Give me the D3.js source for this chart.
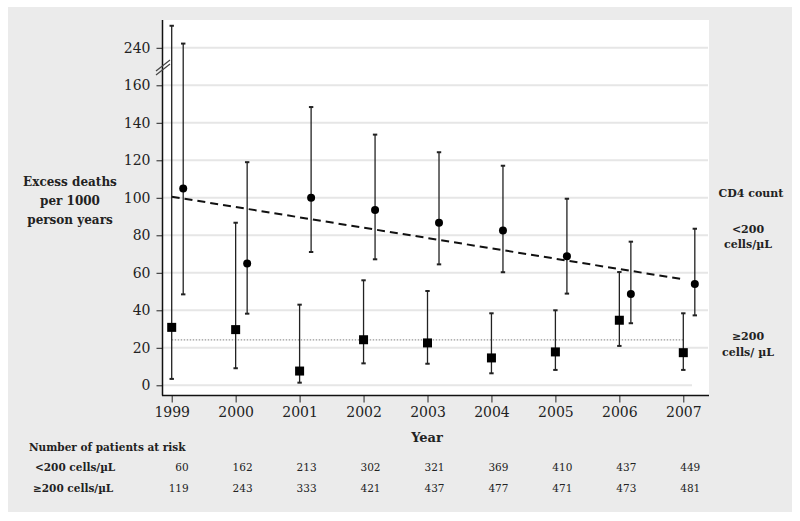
<!DOCTYPE html>
<html><head><meta charset="utf-8">
<script src="https://cdn.jsdelivr.net/npm/d3@7"></script>
<style>body{margin:0;background:#fff}svg{display:block}</style>
</head><body>
<script>
// ---- data ----
const years = [1999, 2000, 2001, 2002, 2003, 2004, 2005, 2006, 2007];
// CD4 < 200 cells/µL (circles)
const lowEst   = [105, 65, 100, 93.5, 86.7, 82.5, 68.8, 48.7, 54];
const lowLower = [48.5, 38.2, 71.1, 67.2, 64.5, 60.3, 48.9, 33.1, 37.3];
const lowUpper = [249, 119, 148.4, 133.7, 124.3, 117.1, 99.5, 76.6, 83.5];
// CD4 >= 200 cells/µL (squares)
const highEst   = [30.9, 29.7, 7.6, 24.3, 22.6, 14.6, 17.8, 34.7, 17.4];
const highLower = [3.4, 9.1, 1.4, 11.7, 11.5, 6.4, 8.2, 21, 8.2];
const highUpper = [287, 86.7, 43, 56, 50.3, 38.4, 40, 60.4, 38.4];
// trend lines
const lowTrend = [100.6, 56.5];   // values at 1999 and 2007
const highTrend = [24.2, 24.2];
const yTicks = [0, 20, 40, 60, 80, 100, 120, 140, 160, 240];
// patients at risk
const riskLow  = [60, 162, 213, 302, 321, 369, 410, 437, 449];
const riskHigh = [119, 243, 333, 421, 437, 477, 471, 473, 481];

const W = 800, H = 521;
const svg = d3.select("body").append("svg").attr("width", W).attr("height", H);
const serif = "DejaVu Serif";

svg.append("rect").attr("x", 8).attr("y", 7).attr("width", 784).attr("height", 505).attr("fill", "#ebebeb");
svg.append("rect").attr("x", 162).attr("y", 20).attr("width", 547).attr("height", 375).attr("fill", "#fff");

// scales (y axis broken above 160)
const x = d3.scaleLinear().domain([1999, 2007]).range([171.7, 683.3]);
const y = d3.scaleLinear().domain([0, 160, 240]).range([385.3, 85.3, 47.8]);
const circOff = 0.18; // circles plotted slightly right of year

// grid
svg.append("g").selectAll("line").data(yTicks).join("line")
  .attr("x1", 163).attr("x2", d => d === 0 ? 692 : 708)
  .attr("y1", d => y(d)).attr("y2", d => y(d))
  .attr("stroke", "#e6e6e6").attr("stroke-width", 2);

// y axis
const yAxis = d3.axisLeft(y).tickValues(yTicks).tickSize(6).tickPadding(6);
const gy = svg.append("g").attr("transform", "translate(162.5,0)").call(yAxis);
gy.select(".domain").remove();
gy.selectAll("text").attr("font-family", serif).attr("font-size", 14).attr("fill", "#222");
gy.selectAll(".tick line").attr("stroke", "#222");
svg.append("line").attr("x1", 162.5).attr("x2", 162.5).attr("y1", 20).attr("y2", 395.5).attr("stroke", "#111").attr("stroke-width", 1.5);
// break marks
[0, 4].forEach(o => {
  svg.append("line").attr("x1", 156).attr("y1", 71 + o).attr("x2", 170).attr("y2", 60 + o)
    .attr("stroke", "#444").attr("stroke-width", 1.2);
});

// x axis
const xAxis = d3.axisBottom(x).tickValues(years).tickFormat(d3.format("d")).tickSize(7).tickPadding(5);
const gx = svg.append("g").attr("transform", "translate(0,395.5)").call(xAxis);
gx.select(".domain").remove();
gx.selectAll("text").attr("font-family", serif).attr("font-size", 14).attr("fill", "#222");
gx.selectAll(".tick line").attr("stroke", "#222");
svg.append("line").attr("x1", 162).attr("x2", 709).attr("y1", 395.5).attr("y2", 395.5).attr("stroke", "#111").attr("stroke-width", 1.5);

// trend lines
svg.append("line")
  .attr("x1", x(years[0])).attr("x2", x(years[years.length - 1]))
  .attr("y1", y(highTrend[0])).attr("y2", y(highTrend[1]))
  .attr("stroke", "#999").attr("stroke-width", 1.2).attr("stroke-dasharray", "1.5,1.5");
svg.append("line")
  .attr("x1", x(years[0])).attr("x2", x(years[years.length - 1]))
  .attr("y1", y(lowTrend[0])).attr("y2", y(lowTrend[1]))
  .attr("stroke", "#111").attr("stroke-width", 2).attr("stroke-dasharray", "8,5");

function errBars(xs, lo, hi) {
  const g = svg.append("g").attr("stroke", "#222");
  years.forEach((yr, i) => {
    const cx = xs(yr);
    g.append("line").attr("x1", cx).attr("x2", cx).attr("y1", y(lo[i])).attr("y2", y(hi[i])).attr("stroke-width", 1.3);
    [lo[i], hi[i]].forEach(v => g.append("line").attr("x1", cx - 2.2).attr("x2", cx + 2.2)
      .attr("y1", y(v)).attr("y2", y(v)).attr("stroke-width", 2));
  });
}
errBars(yr => x(yr), highLower, highUpper);
errBars(yr => x(yr + circOff), lowLower, lowUpper);

// markers
svg.append("g").selectAll("rect").data(years).join("rect")
  .attr("x", (d, i) => x(d) - 4.5).attr("y", (d, i) => y(highEst[i]) - 4.5)
  .attr("width", 9).attr("height", 9).attr("fill", "#000");
svg.append("g").selectAll("circle").data(years).join("circle")
  .attr("cx", d => x(d + circOff)).attr("cy", (d, i) => y(lowEst[i])).attr("r", 4).attr("fill", "#000");

// y label
const yl = svg.append("text").attr("font-family", serif).attr("font-weight", "bold").attr("font-size", 12)
  .attr("text-anchor", "middle").attr("fill", "#222");
["Excess deaths", "per 1000", "person years"].forEach((t, i) =>
  yl.append("tspan").attr("x", 70).attr("y", 186 + i * 19).text(t));

// x label
svg.append("text").attr("x", 427).attr("y", 442).attr("font-family", serif).attr("font-weight", "bold")
  .attr("font-size", 13).attr("text-anchor", "middle").attr("fill", "#222").text("Year");

// legend on right
const lg = svg.append("g").attr("font-family", serif).attr("font-weight", "bold").attr("font-size", 11)
  .attr("text-anchor", "middle").attr("fill", "#222");
lg.append("text").attr("x", 751).attr("y", 197).text("CD4 count");
lg.append("text").attr("x", 748).attr("y", 233).text("<200");
lg.append("text").attr("x", 748).attr("y", 248).text("cells/µL");
lg.append("text").attr("x", 748).attr("y", 340).text("≥200");
lg.append("text").attr("x", 748).attr("y", 356).text("cells/ µL");

// table
const tb = svg.append("g").attr("font-family", serif).attr("fill", "#222");
tb.append("text").attr("x", 29).attr("y", 451).attr("font-weight", "bold").attr("font-size", 10.5).text("Number of patients at risk");
tb.append("text").attr("x", 35).attr("y", 471).attr("font-weight", "bold").attr("font-size", 10.5).text("<200 cells/µL");
tb.append("text").attr("x", 33).attr("y", 492).attr("font-weight", "bold").attr("font-size", 10.5).text("≥200 cells/µL");
tb.append("g").selectAll("text").data(years).join("text")
  .attr("x", d => x(d) + 17).attr("y", 471).attr("text-anchor", "end").attr("font-size", 10.5)
  .text((d, i) => riskLow[i]);
tb.append("g").selectAll("text").data(years).join("text")
  .attr("x", d => x(d) + 17).attr("y", 492).attr("text-anchor", "end").attr("font-size", 10.5)
  .text((d, i) => riskHigh[i]);
</script>
</body></html>
